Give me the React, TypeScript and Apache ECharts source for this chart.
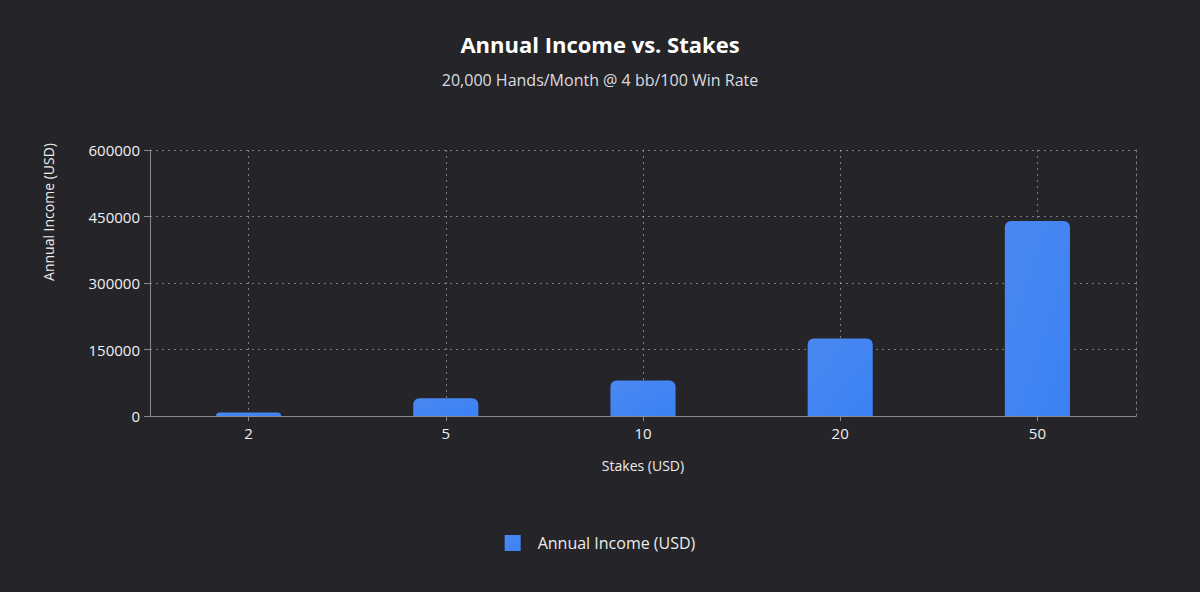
import React, { useEffect, useRef } from 'react';
import * as echarts from 'echarts';
import type { EChartsOption } from 'echarts';

// Annual income per stake level
const stakes = ['2', '5', '10', '20', '50'];
const annualIncome = [8000, 40000, 80000, 175000, 440000];
const yTicks = { min: 0, max: 600000, interval: 150000 };

const FONT = '"Open Sans", "Noto Sans", sans-serif';
const GRID_LINE = 'rgba(200, 200, 200, 0.55)';

const App: React.FC = () => {
  const chartRef = useRef<HTMLDivElement>(null);

  useEffect(() => {
    document.body.style.margin = '0';
    if (!chartRef.current) return;
    const chart = echarts.init(chartRef.current, undefined, { renderer: 'svg' });

    const option: EChartsOption = {
      animation: false,
      backgroundColor: '#252428',
      textStyle: { fontFamily: FONT },
      title: {
        text: 'Annual Income vs. Stakes',
        subtext: '20,000 Hands/Month @ 4 bb/100 Win Rate',
        left: 'center',
        top: 28,
        itemGap: 17,
        textStyle: { color: '#ffffff', fontSize: 22, fontWeight: 'bold', fontFamily: FONT },
        subtextStyle: { color: '#dcdce0', fontSize: 16, fontFamily: FONT },
      },
      legend: {
        bottom: 36,
        left: 'center',
        itemWidth: 16,
        itemHeight: 16,
        itemGap: 10,
        icon: 'rect',
        textStyle: { color: '#ececec', fontSize: 16, fontFamily: FONT, padding: [0, 0, 0, 12] },
        data: ['Annual Income (USD)'],
      },
      graphic: [
        {
          type: 'text',
          x: 48,
          y: 212,
          rotation: Math.PI / 2,
          style: {
            text: 'Annual Income (USD)',
            fill: '#ececec',
            fontSize: 14,
            fontFamily: FONT,
            align: 'center',
            verticalAlign: 'middle',
          },
        },
      ],
      grid: { left: 150, right: 64, top: 150, bottom: 176 },
      xAxis: {
        type: 'category',
        data: stakes,
        name: 'Stakes (USD)',
        nameLocation: 'middle',
        nameGap: 42,
        nameTextStyle: { color: '#ececec', fontSize: 14, fontFamily: FONT },
        axisLine: { show: true, lineStyle: { color: '#8a8a8e', width: 1 } },
        axisTick: { show: true, alignWithLabel: true, length: 5, lineStyle: { color: '#8a8a8e' } },
        axisLabel: { color: '#f0f0f0', fontSize: 15, margin: 9, fontFamily: FONT },
        splitLine: { show: false },
      },
      yAxis: [
        {
          type: 'value',
          min: yTicks.min,
          max: yTicks.max,
          interval: yTicks.interval,
          axisLine: { show: true, lineStyle: { color: '#8a8a8e', width: 1 } },
          axisTick: { show: true, length: 6, lineStyle: { color: '#8a8a8e' } },
          axisLabel: {
            color: '#f0f0f0',
            fontSize: 15,
            margin: 10,
            fontFamily: FONT,
            formatter: (v: number) => String(v),
          },
          splitLine: { show: true, lineStyle: { color: GRID_LINE, type: [2, 4], width: 1 } },
        },
        {
          type: 'value',
          position: 'right',
          min: yTicks.min,
          max: yTicks.max,
          interval: yTicks.interval,
          axisLine: { show: true, lineStyle: { color: GRID_LINE, type: [2, 4], width: 1 } },
          axisTick: { show: false },
          axisLabel: { show: false },
          splitLine: { show: false },
        },
      ],
      series: [
        {
          name: 'Annual Income (USD)',
          type: 'bar',
          data: annualIncome,
          barWidth: '33%',
          z: 2,
          itemStyle: {
            color: new echarts.graphic.LinearGradient(0, 0, 1, 1, [
              { offset: 0, color: '#4a88f0' },
              { offset: 1, color: '#3b82f6' },
            ]),
            borderRadius: [6, 6, 0, 0],
          },
          markLine: {
            z: 1,
            silent: true,
            symbol: 'none',
            label: { show: false },
            lineStyle: { color: GRID_LINE, type: [2, 4], width: 1 },
            data: stakes.map((s) => ({ xAxis: s })),
          },
        },
      ],
    };

    chart.setOption(option);
    const handleResize = () => chart.resize();
    window.addEventListener('resize', handleResize);
    return () => {
      window.removeEventListener('resize', handleResize);
      chart.dispose();
    };
  }, []);

  return <div ref={chartRef} style={{ width: '100vw', height: '100vh' }} />;
};

export default App;
